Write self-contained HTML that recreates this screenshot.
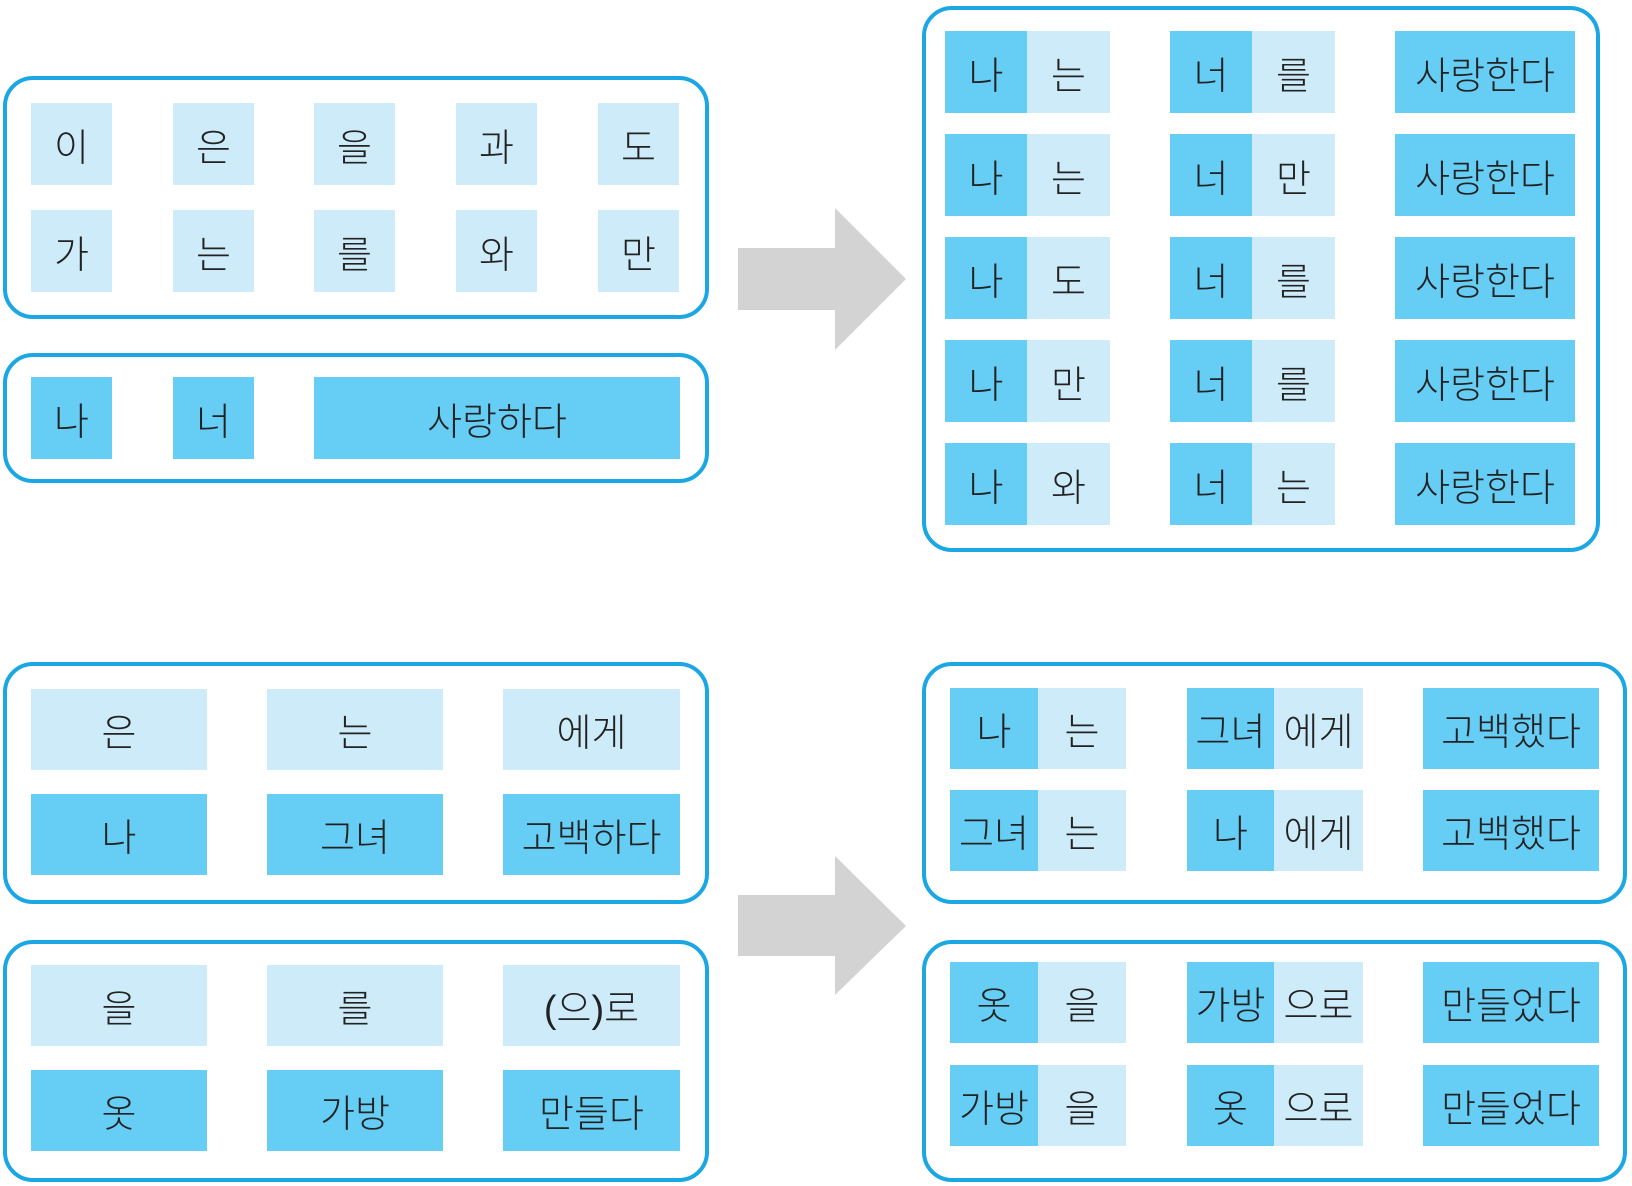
<!DOCTYPE html>
<html><head><meta charset="utf-8"><style>
body{margin:0;width:1632px;height:1186px;background:#fff;position:relative;overflow:hidden;font-family:"Liberation Sans","Noto Sans CJK KR",sans-serif;}
.b{position:absolute;border:4px solid #1aa7e3;border-radius:30px;box-sizing:border-box;}
.c{position:absolute;display:flex;align-items:center;justify-content:center;font-size:38px;color:#222;font-weight:300;}
.l{background:#cdebf9}.d{background:#66cdf5}
</style></head><body>
<div class="b" style="left:3px;top:76px;width:706px;height:243px"></div>
<div class="b" style="left:3px;top:353px;width:706px;height:130px"></div>
<div class="b" style="left:922px;top:6px;width:678px;height:546px"></div>
<div class="b" style="left:3px;top:662px;width:706px;height:242px"></div>
<div class="b" style="left:3px;top:940px;width:706px;height:242px"></div>
<div class="b" style="left:922px;top:662px;width:705px;height:242px"></div>
<div class="b" style="left:922px;top:940px;width:705px;height:242px"></div>
<svg style="position:absolute;left:0;top:0" width="1632" height="1186">
<polygon points="738,248 835,248 835,208 906,279 835,350 835,310 738,310" fill="#d3d3d3"/>
<polygon points="738,895 835,895 835,856 906,926 835,995 835,956 738,956" fill="#d3d3d3"/>
</svg>
<div id="c"></div>
<script>
var h='';
function c(x1,y1,x2,y2,cls,t){h+='<div class="c '+cls+'" style="left:'+x1+'px;top:'+y1+'px;width:'+(x2-x1)+'px;height:'+(y2-y1)+'px">'+t+'</div>';}
var xs=[31,173,314,456,598];
var r1=['이','은','을','과','도'],r2=['가','는','를','와','만'];
for(var i=0;i<5;i++){c(xs[i],103,xs[i]+81,185,'l',r1[i]);c(xs[i],210,xs[i]+81,292,'l',r2[i]);}
c(31,377,112,459,'d','나');c(173,377,254,459,'d','너');c(314,377,680,459,'d','사랑하다');
var ry=[31,134,237,340,443],p1=['는','는','도','만','와'],p2=['를','만','를','를','는'];
for(var i=0;i<5;i++){var y=ry[i];c(945,y,1027,y+82,'d','나');c(1027,y,1110,y+82,'l',p1[i]);c(1170,y,1252,y+82,'d','너');c(1252,y,1335,y+82,'l',p2[i]);c(1395,y,1575,y+82,'d','사랑한다');}
var bx=[[31,207],[267,443],[503,680]];
var A=[['은','는','에게'],['나','그녀','고백하다']],B=[['을','를','(으)로'],['옷','가방','만들다']];
for(var i=0;i<3;i++){c(bx[i][0],689,bx[i][1],770,'l',A[0][i]);c(bx[i][0],794,bx[i][1],875,'d',A[1][i]);
c(bx[i][0],965,bx[i][1],1046,'l',B[0][i]);c(bx[i][0],1070,bx[i][1],1151,'d',B[1][i]);}
function row(y,a,b,cc,d,e){c(950,y,1038,y+81,'d',a);c(1038,y,1126,y+81,'l',b);c(1187,y,1274,y+81,'d',cc);c(1274,y,1363,y+81,'l',d);c(1423,y,1599,y+81,'d',e);}
row(688,'나','는','그녀','에게','고백했다');row(790,'그녀','는','나','에게','고백했다');
row(962,'옷','을','가방','으로','만들었다');row(1065,'가방','을','옷','으로','만들었다');
document.getElementById('c').innerHTML=h;
</script>
</body></html>
